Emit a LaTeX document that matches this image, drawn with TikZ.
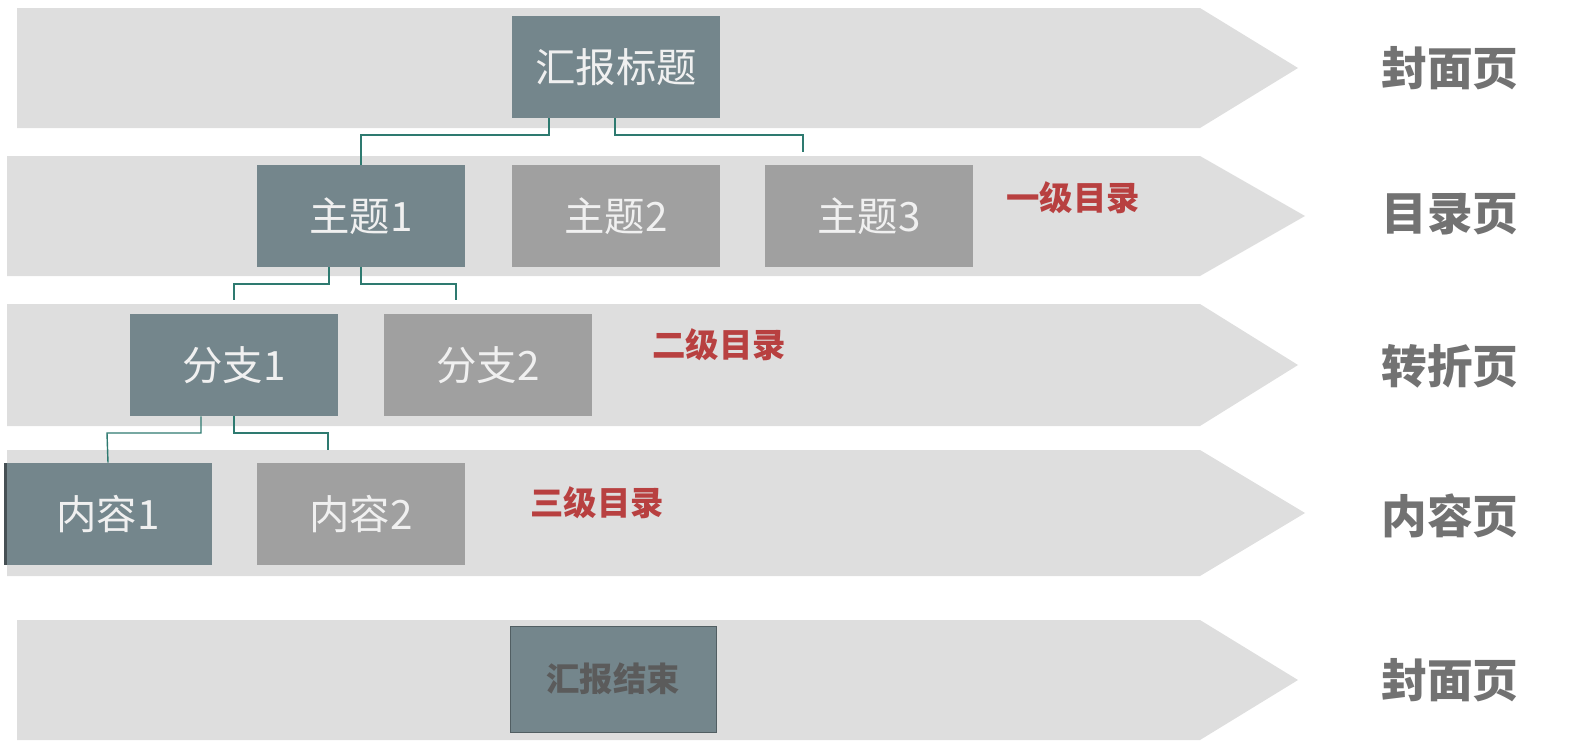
\documentclass[tikz,border=0pt]{standalone}
\usepackage{fontspec}
\setmainfont{Noto Sans CJK SC}
\usetikzlibrary{positioning,calc}
\definecolor{band}{HTML}{DEDEDE}
\definecolor{slate}{HTML}{74868C}
\definecolor{lgrey}{HTML}{A0A0A0}
\definecolor{teal}{HTML}{2E7A70}
\definecolor{redlab}{HTML}{B84040}
\definecolor{pagelab}{HTML}{727272}
\begin{document}
\begin{tikzpicture}
[x=0.02cm,y=-0.02cm,
box/.style={minimum width=4.16cm,minimum height=2.04cm,inner sep=0pt,
  text=white!88!gray,font=\fontsize{23}{23}\selectfont},
dark/.style={box,fill=slate},
light/.style={box,fill=lgrey},
lvl/.style={text=redlab,font=\fontsize{19}{19}\selectfont\bfseries},
page/.style={text=pagelab,font=\fontsize{26}{26}\selectfont\bfseries},
conn/.style={draw=teal,line width=0.8pt}]
\useasboundingbox (0,0) rectangle (1578,751);

% bands
\fill[band] (17,8) -- (1200,8) -- (1298,68) -- (1200,128) -- (17,128) -- cycle;
\fill[band] (7,156) -- (1200,156) -- (1305,216) -- (1200,276) -- (7,276) -- cycle;
\fill[band] (7,304) -- (1200,304) -- (1298,365) -- (1200,426) -- (7,426) -- cycle;
\fill[band] (7,450) -- (1200,450) -- (1305,513) -- (1200,576) -- (7,576) -- cycle;
\fill[band] (17,620) -- (1200,620) -- (1298,680) -- (1200,740) -- (17,740) -- cycle;

% boxes
\node (title) at (616,67)[dark] {汇报标题};
\node (t1) at (361,216)[dark] {主题1};
\node (t2) at (616,216)[light] {主题2};
\node (t3) at (869,216)[light] {主题3};
\node (b1) at (234,365)[dark] {分支1};
\node (b2) at (488,365)[light] {分支2};
\node (c1) at (108,514)[dark] {内容1};
\node (c2) at (361,514)[light] {内容2};
\node (end) at (613,679)[dark,draw=slate!70!black,text=pagelab!80!black,
  font=\fontsize{19}{19}\selectfont\bfseries,minimum width=4.12cm,minimum height=2.12cm] {汇报结束};
\fill[slate!60!black] (c1.north west) rectangle ++(3,102);

% connectors
\draw[conn] ($(title.south)+(-67,0)$) |- (361,135) -- (t1.north);
\draw[conn] ($(title.south)+(-1,0)$) |- (803,135) -- (803,152);
\draw[conn] ($(t1.south)+(-32,0)$) |- (234,284) -- (234,300);
\draw[conn] (t1.south) |- (456,284) -- (456,300);
\draw[conn] ($(b1.south)+(-33,0)$) |- (107,433) -- (c1.north);
\draw[conn] (b1.south) |- (328,433) -- (328,450);

% labels
\node (l1) at (1073,198)[lvl] {一级目录};
\node (l2) at (719,345)[lvl] {二级目录};
\node (l3) at (597,503)[lvl] {三级目录};
\node (p1) at (1450,68)[page] {封面页};
\node (p2) at (1450,214)[page] {目录页};
\node (p3) at (1450,366)[page] {转折页};
\node (p4) at (1450,516)[page] {内容页};
\node (p5) at (1450,680)[page] {封面页};
\end{tikzpicture}
\end{document}
